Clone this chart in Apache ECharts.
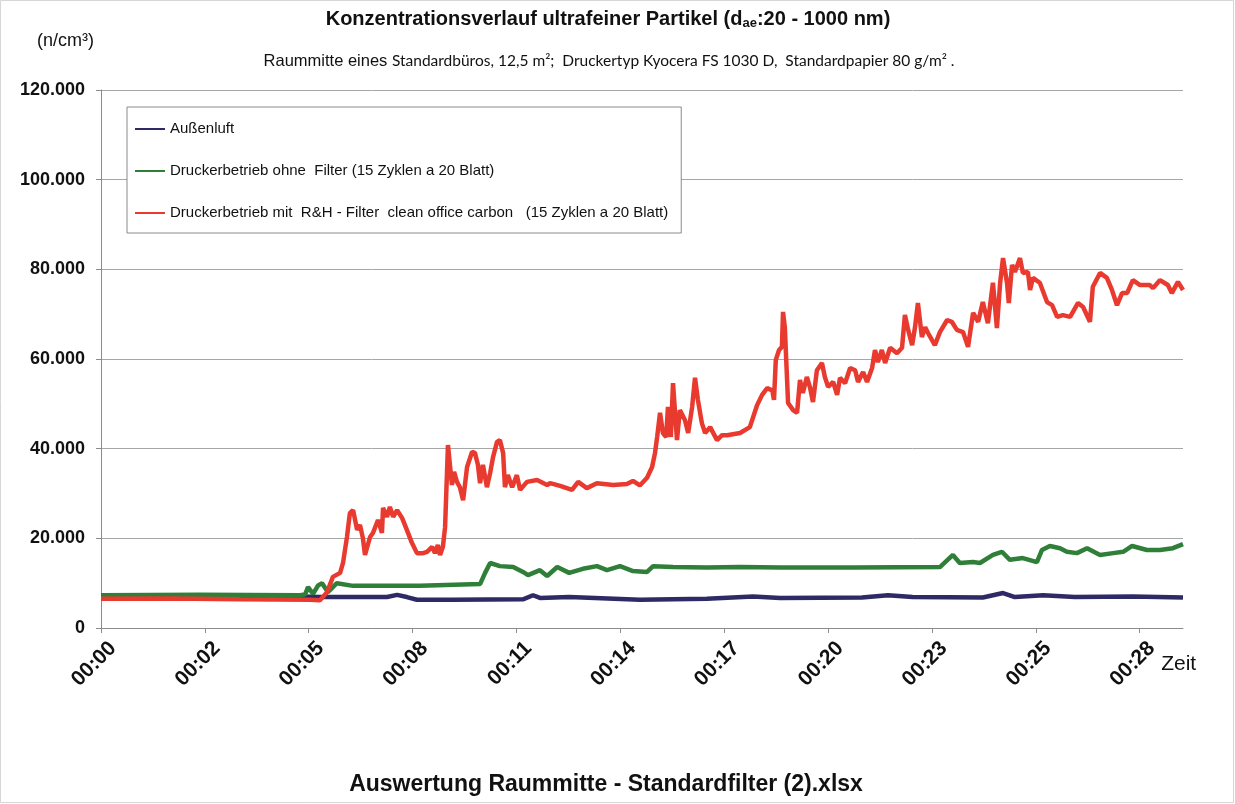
<!DOCTYPE html>
<html>
<head>
<meta charset="utf-8">
<script src="https://cdn.jsdelivr.net/npm/echarts@6/dist/echarts.min.js"></script>
<style>
  html, body { margin: 0; padding: 0; background: #fff; }
  #chart { width: 1235px; height: 804px; }
</style>
</head>
<body>
<div id="chart"></div>
<script>
// Zeit in Minuten, Werte in n/cm3
const xTicks = [0, 2.88, 5.76, 8.64, 11.52, 14.4, 17.28, 20.16, 23.04, 25.92, 28.8];

const legendNames = [
  "Außenluft",
  "Druckerbetrieb ohne  Filter (15 Zyklen a 20 Blatt)",
  "Druckerbetrieb mit  R&H - Filter  clean office carbon   (15 Zyklen a 20 Blatt)"
];

const blueT = [0, 2.74, 5.52, 6.07, 7.93, 8.21, 8.48, 8.76, 9.73, 11.7, 11.98, 12.17, 12.98, 14.94, 16.8, 18.08, 18.83, 21.1, 21.82, 22.5, 24.45, 25.01, 25.34, 26.12, 27.0, 28.61, 30];
const blueV = [7000, 7000, 7000, 6900, 6900, 7400, 6900, 6300, 6300, 6400, 7300, 6700, 6900, 6300, 6500, 7000, 6700, 6800, 7300, 6900, 6800, 7800, 6900, 7300, 6900, 7000, 6800];

const greenT = [0, 2.74, 5.52, 5.66, 5.74, 5.88, 6.02, 6.13, 6.29, 6.54, 6.99, 7.93, 8.84, 10.51, 10.65, 10.79, 11.06, 11.43, 11.7, 11.84, 12.17, 12.37, 12.65, 12.98, 13.36, 13.75, 14.03, 14.39, 14.75, 15.14, 15.31, 15.86, 16.8, 17.72, 18.83, 20.88, 23.26, 23.62, 23.81, 24.18, 24.37, 24.73, 24.98, 25.2, 25.56, 25.95, 26.09, 26.31, 26.59, 26.78, 27.06, 27.34, 27.7, 28.06, 28.34, 28.59, 29.0, 29.36, 29.72, 30];
const greenV = [7300, 7400, 7300, 7500, 9100, 7600, 9500, 10000, 8000, 10000, 9400, 9400, 9400, 9800, 12300, 14500, 13800, 13600, 12500, 11800, 12900, 11600, 13600, 12300, 13200, 13800, 12900, 13800, 12700, 12500, 13800, 13600, 13500, 13600, 13500, 13500, 13600, 16300, 14500, 14700, 14500, 16300, 17000, 15200, 15600, 14700, 17400, 18300, 17800, 17000, 16700, 17800, 16300, 16700, 17000, 18300, 17400, 17400, 17800, 18700];

const redT = [0, 1.91, 3.85, 5.79, 6.07, 6.27, 6.43, 6.63, 6.71, 6.82, 6.9, 6.99, 7.1, 7.18, 7.26, 7.32, 7.46, 7.54, 7.68, 7.79, 7.82, 7.93, 8.01, 8.1, 8.21, 8.35, 8.48, 8.62, 8.76, 8.93, 9.04, 9.18, 9.26, 9.34, 9.4, 9.48, 9.54, 9.62, 9.73, 9.79, 9.87, 9.95, 10.04, 10.15, 10.29, 10.37, 10.45, 10.51, 10.59, 10.7, 10.79, 10.87, 10.98, 11.06, 11.15, 11.2, 11.28, 11.4, 11.53, 11.62, 11.81, 12.09, 12.37, 12.45, 12.73, 13.06, 13.23, 13.47, 13.75, 14.2, 14.58, 14.75, 14.94, 15.14, 15.28, 15.36, 15.42, 15.5, 15.58, 15.67, 15.72, 15.8, 15.86, 15.97, 16.05, 16.19, 16.28, 16.39, 16.47, 16.55, 16.66, 16.75, 16.89, 17.08, 17.22, 17.36, 17.72, 17.99, 18.19, 18.33, 18.47, 18.61, 18.66, 18.71, 18.8, 18.88, 18.91, 18.96, 19.05, 19.19, 19.3, 19.38, 19.46, 19.57, 19.66, 19.74, 19.85, 19.99, 20.07, 20.16, 20.3, 20.41, 20.49, 20.63, 20.77, 20.91, 20.99, 21.13, 21.24, 21.38, 21.46, 21.54, 21.65, 21.74, 21.88, 22.07, 22.21, 22.29, 22.38, 22.49, 22.57, 22.65, 22.76, 22.85, 22.93, 23.12, 23.26, 23.46, 23.59, 23.73, 23.9, 24.04, 24.18, 24.32, 24.45, 24.59, 24.73, 24.84, 24.93, 25.01, 25.12, 25.17, 25.26, 25.34, 25.48, 25.56, 25.7, 25.76, 25.84, 26.03, 26.23, 26.37, 26.51, 26.67, 26.87, 27.09, 27.23, 27.42, 27.5, 27.7, 27.89, 28.03, 28.17, 28.31, 28.45, 28.61, 28.81, 29.08, 29.17, 29.36, 29.58, 29.69, 29.86, 30];
const redV = [6500, 6600, 6400, 6300, 6200, 8000, 11400, 12300, 14500, 20300, 25600, 26300, 21900, 23000, 20100, 16300, 20300, 21200, 24100, 21200, 26800, 24800, 27000, 24800, 26300, 24500, 21900, 19000, 16700, 16700, 17000, 18100, 16700, 18500, 16300, 18100, 22500, 40800, 31900, 34800, 32600, 31400, 28500, 35900, 39300, 39000, 36400, 32300, 36400, 31400, 34600, 38100, 41500, 41900, 39000, 31400, 34100, 31400, 34100, 30800, 32600, 33000, 31900, 32300, 31700, 30800, 32600, 31200, 32300, 31900, 32100, 32800, 31800, 33500, 35900, 39000, 42600, 48000, 43500, 42600, 49300, 42600, 54600, 41900, 48600, 46400, 43500, 49300, 55800, 50900, 45700, 43500, 44800, 41900, 43000, 43000, 43500, 44800, 49700, 52000, 53500, 53000, 50900, 59800, 62000, 62700, 70500, 67100, 50200, 48600, 48000, 55300, 52400, 56000, 53600, 50400, 57500, 59100, 56000, 53800, 54900, 52000, 55800, 54600, 58000, 57500, 54900, 57100, 54900, 58000, 62000, 59300, 62000, 59100, 62500, 61300, 62500, 69800, 66500, 63100, 67100, 72500, 64900, 67100, 65800, 63100, 66000, 68700, 68300, 66500, 66000, 62700, 70300, 68300, 72700, 68000, 77000, 66900, 77000, 82500, 77000, 72500, 81000, 79400, 82500, 79200, 79400, 75400, 78100, 77000, 72700, 72000, 69400, 69800, 69400, 72500, 71600, 68300, 76100, 79200, 78100, 75400, 72000, 74700, 74700, 77600, 76500, 76500, 75800, 77600, 76500, 74700, 77200, 75400];

const colors = ["#2e2a66", "#2f7f39", "#e93a2f"];

function pairs(t, v) {
  return t.map((x, i) => [x, v[i]]);
}

function fmtThousands(v) {
  return String(v).replace(/\B(?=(\d{3})+(?!\d))/g, ".");
}

function fmtTime(v) {
  let m = Math.floor(v + 1e-9);
  return "00:" + (m < 10 ? "0" + m : m);
}

let myChart = echarts.init(document.getElementById("chart"), null, { renderer: "canvas" });

let series = [
  { data: pairs(blueT, blueV) },
  { data: pairs(greenT, greenV) },
  { data: pairs(redT, redV) }
].map((s, i) => ({
  name: legendNames[i],
  type: "line",
  data: s.data,
  showSymbol: false,
  symbol: "none",
  smooth: false,
  lineStyle: { width: 4.5, color: colors[i] },
  itemStyle: { color: colors[i] },
  z: 2 + i
}));

let option = {
  animation: false,
  backgroundColor: "#ffffff",
  color: colors,
  graphic: [
    {
      type: "rect",
      shape: { x: 0.5, y: 0.5, width: 1233, height: 802 },
      style: { fill: null, stroke: "#d6d6d6", lineWidth: 1 },
      silent: true
    },
    {
      type: "text",
      x: 608,
      y: 19,
      style: {
        text: "{a|Konzentrationsverlauf ultrafeiner Partikel (d}{s|ae}{a|:20 - 1000 nm)}",
        textAlign: "center",
        textVerticalAlign: "middle",
        rich: {
          a: { fontFamily: "Liberation Sans, Arial", fontWeight: "bold", fontSize: 20, fill: "#111" },
          s: { fontFamily: "Liberation Sans, Arial", fontWeight: "bold", fontSize: 13, fill: "#111", padding: [9, 0, 0, 0] }
        }
      }
    },
    {
      type: "text",
      x: 609,
      y: 61,
      style: {
        text: "{a|Raummitte eines }{b|Standardbüros, 12,5 m²;  Druckertyp Kyocera FS 1030 D,  Standardpapier 80 g/m² .}",
        textAlign: "center",
        textVerticalAlign: "middle",
        rich: {
          a: { fontFamily: "Liberation Sans, Arial", fontSize: 16.5, fill: "#111" },
          b: { fontFamily: "Lato", fontSize: 15.5, fill: "#111" }
        }
      }
    },
    {
      type: "text",
      x: 606,
      y: 785,
      style: {
        text: "Auswertung Raummitte - Standardfilter (2).xlsx",
        textAlign: "center",
        textVerticalAlign: "middle",
        fontFamily: "Liberation Sans, Arial",
        fontWeight: "bold",
        fontSize: 23,
        fill: "#111"
      }
    }
  ],
  legend: {
    orient: "vertical",
    left: 127,
    top: 107,
    width: 600,
    backgroundColor: "#ffffff",
    borderColor: "#8a8a8a",
    borderWidth: 1,
    padding: [14, 13, 12, 8],
    itemGap: 26,
    itemWidth: 30,
    itemHeight: 2,
    itemTextGap: 6,
    icon: "rect",
    textStyle: { fontFamily: "Liberation Sans, Arial", fontSize: 15, lineHeight: 16, color: "#111" },
    data: legendNames
  },
  grid: { left: 101, right: 52, top: 90, bottom: 176 },
  xAxis: {
    type: "value",
    min: 0,
    max: 30,
    name: "Zeit",
    nameLocation: "end",
    nameGap: 0,
    nameTextStyle: {
      fontFamily: "Liberation Sans, Arial",
      fontSize: 21,
      color: "#111",
      align: "right",
      verticalAlign: "top",
      padding: [26, 8, 0, 0]
    },
    axisLine: { lineStyle: { color: "#8c8c8c", width: 1 } },
    axisTick: { show: true, length: 5, lineStyle: { color: "#8c8c8c" }, customValues: xTicks },
    splitLine: { show: false },
    axisLabel: {
      customValues: xTicks,
      rotate: 45,
      margin: 5,
      verticalAlign: "top",
      lineHeight: 22,
      padding: [6, 0, 0, 0],
      fontFamily: "Liberation Sans, Arial",
      fontWeight: "bold",
      fontSize: 21,
      color: "#111",
      formatter: fmtTime
    }
  },
  yAxis: {
    type: "value",
    min: 0,
    max: 120000,
    interval: 20000,
    name: "(n/cm³)",
    nameLocation: "end",
    nameGap: 40,
    nameTextStyle: {
      fontFamily: "Liberation Sans, Arial",
      fontSize: 18,
      color: "#111",
      align: "right",
      verticalAlign: "bottom",
      padding: [0, 7, 0, 0]
    },
    axisLine: { show: true, lineStyle: { color: "#8c8c8c", width: 1 } },
    axisTick: { show: true, length: 5, lineStyle: { color: "#8c8c8c" } },
    splitLine: { show: true, lineStyle: { color: "#a6a6a6", width: 1 } },
    axisLabel: {
      margin: 16,
      fontFamily: "Liberation Sans, Arial",
      fontWeight: "bold",
      fontSize: 18,
      color: "#111",
      formatter: fmtThousands
    }
  },
  series: series
};

myChart.setOption(option, true);
window.addEventListener("resize", () => {
  myChart.resize();
});
</script>
</body>
</html>
